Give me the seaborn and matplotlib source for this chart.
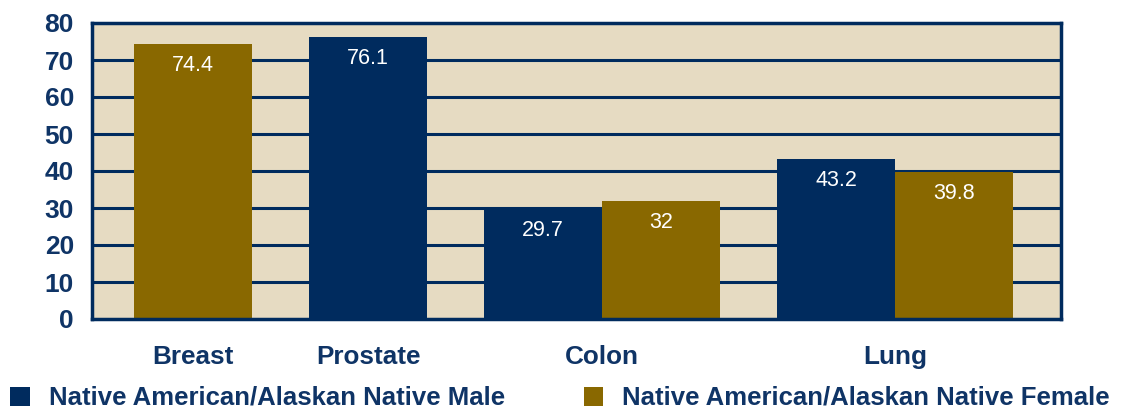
import matplotlib
matplotlib.use('Agg')
import matplotlib.pyplot as plt
import numpy as np
import pandas as pd
import seaborn as sns

# data
SITES = ['Breast', 'Prostate', 'Colon', 'Lung']
MALE = [np.nan, 76.1, 29.7, 43.2]
FEMALE = [74.4, np.nan, 32.0, 39.8]
SERIES = ['Native American/Alaskan Native Male', 'Native American/Alaskan Native Female']
Y_TICKS = [0, 10, 20, 30, 40, 50, 60, 70, 80]

NAVY = '#002B5E'
GOLD = '#896800'
TAN = '#E6DBC2'
TEXT = '#0F3466'

# layout: bars of one site sit side by side, sites separated by a gap (in bar widths)
LEFT_PAD = 0.356
GROUP_GAP = 0.483

rows = []
centers = []
pos = LEFT_PAD + 0.5
for site, m, f in zip(SITES, MALE, FEMALE):
    vals = [(SERIES[0], m), (SERIES[1], f)]
    vals = [(s, v) for s, v in vals if not np.isnan(v)]
    first = pos
    for s, v in vals:
        rows.append({'site': site, 'series': s, 'pos': pos, 'value': v})
        pos += 1
    centers.append((first + pos - 1) / 2)
    pos += GROUP_GAP
df = pd.DataFrame(rows)

sns.set_theme(style='white')
plt.rcParams['font.family'] = ['Liberation Sans', 'DejaVu Sans']

fig = plt.figure(figsize=(11.26, 4.12), dpi=100)
ax = fig.add_axes([92 / 1126, 1 - 319 / 412, (1061 - 92) / 1126, (319 - 23) / 412])
ax.set_facecolor(TAN)

sns.barplot(data=df, x='pos', y='value', hue='series', hue_order=SERIES,
            palette=[NAVY, GOLD], native_scale=True, dodge=False, width=1.0,
            saturation=1, linewidth=0, ax=ax, zorder=2)

for _, r in df.iterrows():
    v = r['value']
    ax.text(r['pos'], v - 5.8, f'{v:g}', ha='center', va='center',
            color='white', fontsize=15.5, zorder=3)

ax.set_xlim(0, (1061 - 92) / 118)
ax.set_ylim(0, 80)
ax.set_yticks(Y_TICKS)
ax.set_xticks(centers)
ax.set_xticklabels(SITES)
ax.set_xlabel('')
ax.set_ylabel('')
for y in Y_TICKS[1:-1]:
    ax.axhline(y, color=NAVY, linewidth=2.2, zorder=1)
for sp in ax.spines.values():
    sp.set_color(NAVY)
    sp.set_linewidth(2.5)
ax.tick_params(axis='y', length=0, pad=13, labelsize=19, labelcolor=TEXT)
ax.tick_params(axis='x', length=0, pad=19, labelsize=18.8, labelcolor=TEXT)
for lab in ax.get_xticklabels() + ax.get_yticklabels():
    lab.set_fontweight('bold')

sns.move_legend(ax, 'lower left', bbox_to_anchor=(0.0, -0.02),
                bbox_transform=fig.transFigure, ncol=2, frameon=False, title=None,
                fontsize=18.5, handlelength=0.76, handleheight=0.76,
                handletextpad=0.75, columnspacing=3.05, borderaxespad=0)
leg = ax.get_legend()
for t in leg.get_texts():
    t.set_color(TEXT)
    t.set_fontweight('bold')

fig.savefig('out.png', dpi=100)
